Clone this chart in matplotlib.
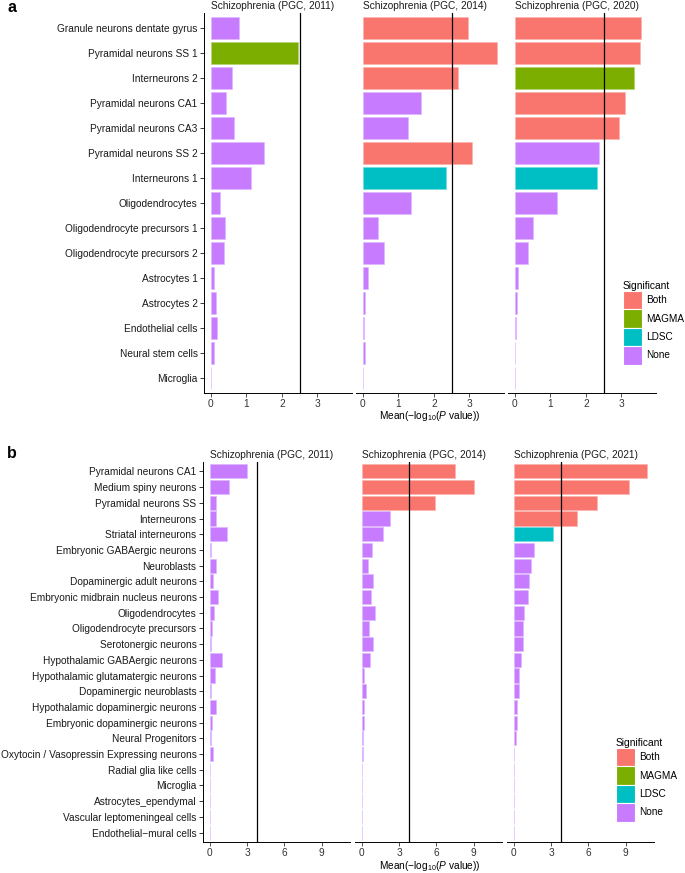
import matplotlib
matplotlib.use("Agg")
import matplotlib.pyplot as plt
from matplotlib.patches import Patch
from matplotlib.colors import to_rgb

plt.rcParams['font.family'] = ['Liberation Sans', 'DejaVu Sans']
plt.rcParams['mathtext.fontset'] = 'custom'
plt.rcParams['mathtext.rm'] = 'Liberation Sans'
plt.rcParams['mathtext.it'] = 'Liberation Sans:italic'

# ---- panel a data ----
top_types = ['Granule neurons dentate gyrus', 'Pyramidal neurons SS 1', 'Interneurons 2',
             'Pyramidal neurons CA1', 'Pyramidal neurons CA3', 'Pyramidal neurons SS 2',
             'Interneurons 1', 'Oligodendrocytes', 'Oligodendrocyte precursors 1',
             'Oligodendrocyte precursors 2', 'Astrocytes 1', 'Astrocytes 2',
             'Endothelial cells', 'Neural stem cells', 'Microglia']
top_titles = ['Schizophrenia (PGC, 2011)', 'Schizophrenia (PGC, 2014)', 'Schizophrenia (PGC, 2020)']
top_2011 = [0.79, 2.44, 0.59, 0.43, 0.64, 1.49, 1.13, 0.26, 0.40, 0.38, 0.10, 0.14, 0.18, 0.08, 0.02]
top_2014 = [2.96, 3.78, 2.68, 1.64, 1.26, 3.06, 2.35, 1.36, 0.42, 0.61, 0.16, 0.06, 0.03, 0.05, 0.0]
top_2020 = [3.55, 3.53, 3.35, 3.09, 2.93, 2.36, 2.31, 1.20, 0.52, 0.37, 0.09, 0.05, 0.03, 0.02, 0.01]
top_sig_2011 = ['None', 'MAGMA'] + ['None'] * 13
top_sig_2014 = ['Both', 'Both', 'Both', 'None', 'None', 'Both', 'LDSC'] + ['None'] * 8
top_sig_2020 = ['Both', 'Both', 'MAGMA', 'Both', 'Both', 'None', 'LDSC'] + ['None'] * 8
top_threshold = 2.5
top_ticks = [0, 1, 2, 3]

# ---- panel b data ----
bot_types = ['Pyramidal neurons CA1', 'Medium spiny neurons', 'Pyramidal neurons SS',
             'Interneurons', 'Striatal interneurons', 'Embryonic GABAergic neurons',
             'Neuroblasts', 'Dopaminergic adult neurons', 'Embryonic midbrain nucleus neurons',
             'Oligodendrocytes', 'Oligodendrocyte precursors', 'Serotonergic neurons',
             'Hypothalamic GABAergic neurons', 'Hypothalamic glutamatergic neurons',
             'Dopaminergic neuroblasts', 'Hypothalamic dopaminergic neurons',
             'Embryonic dopaminergic neurons', 'Neural Progenitors',
             'Oxytocin / Vasopressin Expressing neurons', 'Radial glia like cells',
             'Microglia', 'Astrocytes_ependymal', 'Vascular leptomeningeal cells',
             'Endothelial\u2212mural cells']
bot_titles = ['Schizophrenia (PGC, 2011)', 'Schizophrenia (PGC, 2014)', 'Schizophrenia (PGC, 2021)']
bot_2011 = [2.97, 1.54, 0.51, 0.54, 1.41, 0.08, 0.51, 0.27, 0.65, 0.32, 0.19, 0.14,
            0.95, 0.43, 0.11, 0.51, 0.22, 0.08, 0.30, 0.05, 0.05, 0.03, 0.05, 0.03]
bot_2014 = [7.49, 9.03, 5.85, 2.24, 1.67, 0.86, 0.54, 0.94, 0.75, 1.05, 0.59, 0.94,
            0.67, 0.19, 0.38, 0.22, 0.22, 0.11, 0.08, 0.05, 0.03, 0.02, 0.0, 0.03]
bot_2021 = [10.73, 9.30, 6.67, 5.05, 3.17, 1.61, 1.40, 1.21, 1.16, 0.81, 0.78, 0.75,
            0.62, 0.43, 0.40, 0.30, 0.27, 0.19, 0.05, 0.05, 0.03, 0.03, 0.02, 0.02]
bot_sig_2011 = ['None'] * 24
bot_sig_2014 = ['Both'] * 3 + ['None'] * 21
bot_sig_2021 = ['Both'] * 4 + ['LDSC'] + ['None'] * 19
bot_threshold = 3.77
bot_ticks = [0, 3, 6, 9]

sig_levels = ['Both', 'MAGMA', 'LDSC', 'None']
sig_colors = {'Both': '#F8766D', 'MAGMA': '#7CAE00', 'LDSC': '#00BFC4', 'None': '#C77CFF'}


def tint(c, f=0.45):
    r, g, b = to_rgb(c)
    return (r + (1 - r) * f, g + (1 - g) * f, b + (1 - b) * f)


W, H = 685, 873
FS = 7.3
fig = plt.figure(figsize=(W / 100, H / 100), dpi=100)


def px_axes(x0, x1, y0, y1):
    return fig.add_axes([x0 / W, 1 - y1 / H, (x1 - x0) / W, (y1 - y0) / H])


def draw_facets(xspans, ytop, ybot, types, values, sigs, titles, threshold, ticks, xlim):
    n = len(types)
    axes = []
    for i, (x0, x1) in enumerate(xspans):
        ax = px_axes(x0, x1, ytop, ybot)
        cols = [sig_colors[s] for s in sigs[i]]
        edges = [tint(c) for c in cols]
        ax.barh(range(n), values[i], height=0.9, color=cols, edgecolor=edges, linewidth=0.5)
        ax.axvline(threshold, color='black', lw=0.9, zorder=3)
        ax.set_ylim(n - 0.4, -0.6)
        ax.set_xlim(*xlim)
        ax.set_xticks(ticks)
        ax.tick_params(axis='x', length=2.8, width=0.6, labelsize=FS, pad=1.5, colors='#333333')
        for s in ['top', 'right']:
            ax.spines[s].set_visible(False)
        ax.spines['bottom'].set_linewidth(0.7)
        if i == 0:
            ax.set_yticks(range(n))
            ax.set_yticklabels(types)
            ax.tick_params(axis='y', length=2.8, width=0.6, labelsize=FS, pad=1.8, colors='#1a1a1a')
            ax.spines['left'].set_linewidth(0.7)
        else:
            ax.set_yticks([])
            ax.spines['left'].set_visible(False)
        ax.text(0.05, 1.005, titles[i], transform=ax.transAxes, fontsize=FS,
                ha='left', va='bottom', color='#1a1a1a')
        axes.append(ax)
    return axes


top_axes = draw_facets([(204, 352), (356, 504), (508, 656)], 13, 393, top_types,
                       [top_2011, top_2014, top_2020],
                       [top_sig_2011, top_sig_2014, top_sig_2020],
                       top_titles, top_threshold, top_ticks, (-0.19, 3.97))
bot_axes = draw_facets([(203, 350), (355, 502), (507, 654)], 462, 842, bot_types,
                       [bot_2011, bot_2014, bot_2021],
                       [bot_sig_2011, bot_sig_2014, bot_sig_2021],
                       bot_titles, bot_threshold, bot_ticks, (-0.54, 11.27))

xlab = 'Mean($-$log$_{10}$($\\mathit{P}$ value))'
fig.text(430 / W, 1 - 416 / H, xlab, ha='center', va='center', fontsize=FS)
fig.text(430 / W, 1 - 866 / H, xlab, ha='center', va='center', fontsize=FS)

fig.text(7 / W, 1 - 0 / H, 'a', fontsize=11.5, fontweight='heavy', ha='left', va='top')
fig.text(7 / W, 1 - 446 / H, 'b', fontsize=11.5, fontweight='heavy', ha='left', va='top')

handles = [Patch(facecolor=sig_colors[s], edgecolor='white', linewidth=0.8, label=s) for s in sig_levels]
for (lx, ly) in [(616, 274), (609, 731)]:
    leg = fig.legend(handles=handles, title='Significant', loc='upper left',
                     bbox_to_anchor=(lx / W, 1 - ly / H), frameon=False, fontsize=7.2,
                     title_fontsize=7.4, handlelength=1.85, handleheight=2.45,
                     labelspacing=0.0, handletextpad=0.45, borderpad=0.2)
    leg._legend_box.align = 'left'

fig.savefig('out.png', dpi=100)
